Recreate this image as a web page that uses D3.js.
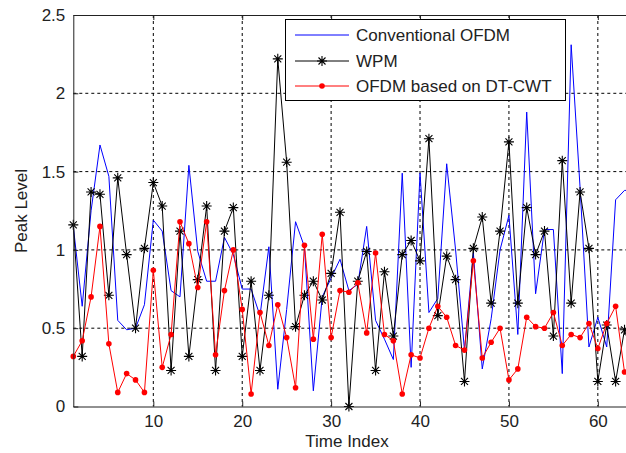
<!DOCTYPE html>
<html>
<head>
<meta charset="utf-8">
<script src="https://cdn.jsdelivr.net/npm/d3@7"></script>
<style>
  body { margin: 0; background: #fff; overflow: hidden; }
  svg { display: block; font-family: "Liberation Sans", Arial, sans-serif; }
</style>
</head>
<body>
<svg width="626" height="453"></svg>
<script>
// peak level per time index (1..64)
const conventional = [1.15, 0.64, 1.25, 1.67, 1.47, 0.55, 0.49, 0.50, 0.65, 1.19,
  1.12, 0.74, 0.70, 1.54, 0.99, 0.80, 0.80, 1.08, 0.97, 0.75,
  0.75, 0.58, 1.02, 0.11, 0.62, 1.18, 1.02, 0.10, 0.70, 0.82,
  0.94, 0.74, 0.78, 1.15, 0.55, 0.43, 0.30, 1.49, 0.25, 1.49,
  0.60, 0.69, 1.55, 1.00, 0.36, 0.98, 0.24, 0.56, 1.00, 1.22,
  0.46, 1.88, 0.72, 1.13, 1.13, 0.21, 2.31, 1.40, 0.38, 0.57,
  0.38, 1.32, 1.38, 1.38];
const wpm = [1.16, 0.32, 1.37, 1.355, 0.71, 1.46, 0.97, 0.50, 1.01, 1.43,
  1.28, 0.23, 1.12, 0.32, 0.81, 1.28, 0.23, 1.12, 1.27, 0.32,
  0.80, 0.23, 0.71, 2.22, 1.56, 0.51, 0.71, 0.80, 0.68, 0.85,
  1.24, 0.00, 0.80, 0.99, 0.23, 0.86, 0.45, 0.97, 1.06, 0.93,
  1.71, 0.58, 0.96, 0.81, 0.16, 1.01, 1.21, 0.66, 1.12, 1.69,
  0.66, 1.27, 0.97, 1.12, 0.45, 1.57, 0.66, 1.37, 1.01, 0.16,
  0.52, 0.16, 0.49, 0.30];
const dtcwt = [0.32, 0.42, 0.70, 1.15, 0.40, 0.09, 0.21, 0.17, 0.09, 0.87,
  0.25, 0.46, 1.18, 1.04, 0.76, 1.18, 0.33, 0.74, 1.00, 0.62,
  0.08, 0.60, 0.39, 0.65, 0.44, 0.12, 1.03, 0.43, 1.10, 0.44,
  0.74, 0.73, 0.79, 0.47, 0.98, 0.46, 0.42, 0.08, 0.33, 0.31,
  0.50, 0.64, 0.57, 0.39, 0.36, 0.93, 0.31, 0.41, 0.50, 0.17,
  0.24, 0.57, 0.51, 0.50, 0.60, 0.39, 0.46, 0.44, 0.53, 0.37,
  0.53, 0.64, 0.22, 0.30];
const xTicks = [10, 20, 30, 40, 50, 60];
const yTicks = [0, 0.5, 1, 1.5, 2, 2.5];
const legendLabels = ['Conventional OFDM', 'WPM', 'OFDM based on DT-CWT'];

const svg = d3.select('svg');
const plotL = 73.3, plotT = 15, plotB = 406.5, plotR = 633.4;

const x = d3.scaleLinear().domain([1, 64]).range([plotL, plotR]);
const y = d3.scaleLinear().domain([0, 2.5]).range([plotB, plotT]);

// grid
svg.append('g').selectAll('line')
  .data(xTicks)
  .join('line')
  .attr('x1', d => x(d)).attr('x2', d => x(d))
  .attr('y1', plotT).attr('y2', plotB)
  .attr('stroke', '#000').attr('stroke-dasharray', '3,3');
svg.append('g').selectAll('line')
  .data(yTicks.slice(1, -1))
  .join('line')
  .attr('x1', plotL).attr('x2', plotR)
  .attr('y1', d => y(d)).attr('y2', d => y(d))
  .attr('stroke', '#000').attr('stroke-dasharray', '3,3');

// series
const line = d3.line().x((d, i) => x(i + 1)).y(d => y(d));

svg.append('path').datum(conventional)
  .attr('d', line).attr('fill', 'none').attr('stroke', '#0000ff').attr('stroke-width', 1);

svg.append('path').datum(wpm)
  .attr('d', line).attr('fill', 'none').attr('stroke', '#000').attr('stroke-width', 1);

const star = 'M-5,0L5,0M0,-5L0,5M-3.5,-3.5L3.5,3.5M-3.5,3.5L3.5,-3.5';
svg.append('g').selectAll('path')
  .data(wpm)
  .join('path')
  .attr('transform', (d, i) => `translate(${x(i + 1)},${y(d)})`)
  .attr('d', star)
  .attr('stroke', '#000').attr('stroke-width', 1.1).attr('fill', 'none');

svg.append('path').datum(dtcwt)
  .attr('d', line).attr('fill', 'none').attr('stroke', '#ff0000').attr('stroke-width', 1);
svg.append('g').selectAll('circle')
  .data(dtcwt)
  .join('circle')
  .attr('cx', (d, i) => x(i + 1)).attr('cy', d => y(d))
  .attr('r', 2.8).attr('fill', '#ff0000');

// axes
const xAxis = svg.append('g')
  .attr('transform', `translate(0,${plotB})`)
  .call(d3.axisBottom(x).tickValues(xTicks).tickSize(-5).tickPadding(8).tickSizeOuter(0));
const yAxis = svg.append('g')
  .attr('transform', `translate(${plotL},0)`)
  .call(d3.axisLeft(y).tickValues(yTicks).tickFormat(d3.format('')).tickSize(-5).tickPadding(8).tickSizeOuter(0));
const topAxis = svg.append('g')
  .attr('transform', `translate(0,${plotT})`)
  .call(d3.axisTop(x).tickValues(xTicks).tickFormat('').tickSize(-5).tickSizeOuter(0));

[xAxis, yAxis, topAxis].forEach(g => {
  g.selectAll('path, line').attr('stroke', '#222');
  g.selectAll('text').attr('font-size', 17).attr('fill', '#222')
    .attr('font-family', '"Liberation Sans", Arial, sans-serif');
});

svg.append('text')
  .attr('x', 347).attr('y', 447)
  .attr('text-anchor', 'middle').attr('font-size', 17).attr('fill', '#222')
  .text('Time Index');
svg.append('text')
  .attr('transform', 'translate(27,211) rotate(-90)')
  .attr('text-anchor', 'middle').attr('font-size', 17).attr('fill', '#222')
  .text('Peak Level');

// legend
const legend = svg.append('g');
legend.append('rect')
  .attr('x', 285.5).attr('y', 19.5).attr('width', 280).attr('height', 81)
  .attr('fill', '#fff').attr('stroke', '#000');
const rowY = [35, 61, 86];
const colors = ['#0000ff', '#000', '#ff0000'];
legendLabels.forEach((label, i) => {
  legend.append('line')
    .attr('x1', 295).attr('x2', 349).attr('y1', rowY[i]).attr('y2', rowY[i])
    .attr('stroke', colors[i]);
  legend.append('text')
    .attr('x', 356).attr('y', rowY[i]).attr('dy', '0.35em')
    .attr('font-size', 17).attr('fill', '#222')
    .text(label);
});
legend.append('path')
  .attr('transform', `translate(322,${rowY[1]})`)
  .attr('d', star).attr('stroke', '#000').attr('stroke-width', 1.1);
legend.append('circle')
  .attr('cx', 322).attr('cy', rowY[2]).attr('r', 2.8).attr('fill', '#ff0000');
</script>
</body>
</html>
